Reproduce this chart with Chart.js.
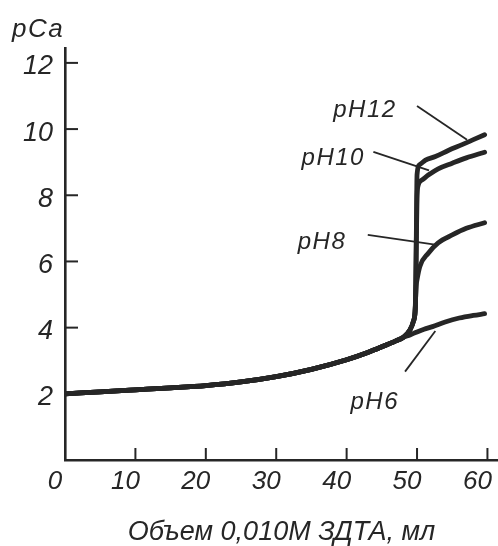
<!DOCTYPE html>
<html><head><meta charset="utf-8">
<script src="https://cdn.jsdelivr.net/npm/chart.js@4.4.0/dist/chart.umd.min.js"></script>
<style>html,body{margin:0;padding:0;background:#fff;} #wrap{width:498px;height:546px;}</style>
</head><body><div id="wrap"><canvas id="c" width="498" height="546"></canvas></div>
<script>
// ---- data ----
const xTickValues = [0, 10, 20, 30, 40, 50, 60];
const yTickValues = [2, 4, 6, 8, 10, 12];
const xTitle = 'Объем 0,010М ЗДТА, мл';
const yTitle = 'pCa';

const commonVolume = [0, 5, 10, 15, 20, 25, 30, 35, 40, 43, 45, 47, 48];
const commonPCa    = [2.0, 2.06, 2.12, 2.18, 2.25, 2.36, 2.52, 2.74, 3.03, 3.25, 3.42, 3.6, 3.7];

const jumpVolume = [49, 49.5, 49.7, 49.8];
const jumpPCa    = [3.93, 4.2, 4.42, 4.9];

const pH12Volume = [49.9, 50.0, 50.4, 51.2, 52.6, 54.5, 56.4, 58, 59.6];
const pH12PCa    = [6.8, 8.62, 8.93, 9.06, 9.17, 9.36, 9.53, 9.68, 9.83];

const pH10Volume = [49.9, 50.0, 50.1, 50.7, 51.6, 53, 55, 57, 59.6];
const pH10PCa    = [6.6, 7.9, 8.25, 8.46, 8.61, 8.8, 8.97, 9.13, 9.3];

const pH8Volume = [49.9, 50.0, 50.4, 51.6, 53, 55, 57, 59.6];
const pH8PCa    = [5.3, 5.45, 5.85, 6.25, 6.56, 6.8, 7.0, 7.17];

const pH6Volume = [49, 50, 51, 52.2, 54, 56, 58, 59.6];
const pH6PCa    = [3.78, 3.87, 3.95, 4.03, 4.17, 4.29, 4.37, 4.42];

const curveLabels = ['pH12', 'pH10', 'pH8', 'pH6'];
// label anchor and leader line in data units (ml, pCa)
const labelAt    = [[42.6, 10.58], [38.1, 9.13], [36.5, 6.59], [44.0, 1.75]];
const leaderFrom = [[50.0, 10.7], [43.8, 9.31], [43.0, 6.8], [48.3, 2.67]];
const leaderTo   = [[57.1, 9.68], [51.7, 8.75], [52.8, 6.5], [52.6, 3.9]];

// ---- build ----
const zip = (xs, ys) => xs.map((x, i) => ({x, y: ys[i]}));
const ink = '#262626';
const FONT = "'Liberation Sans', 'DejaVu Sans', sans-serif";

function series(label, xs, ys, withJump) {
  let px = commonVolume.slice(), py = commonPCa.slice();
  if (withJump) { px = px.concat(jumpVolume); py = py.concat(jumpPCa); }
  px = px.concat(xs); py = py.concat(ys);
  return {
    label, data: zip(px, py), borderColor: ink, borderWidth: 4.8,
    pointRadius: 0, fill: false, cubicInterpolationMode: 'monotone',
    borderCapStyle: 'round', borderJoinStyle: 'round'
  };
}

const deco = {
  id: 'deco',
  beforeInit(chart) { chart.ctx.letterSpacing = '1.5px'; },
  afterDraw(chart) {
    const {ctx, chartArea, scales: {x, y}} = chart;
    ctx.save();
    ctx.strokeStyle = ink; ctx.lineWidth = 2; ctx.lineCap = 'butt';
    yTickValues.forEach(v => {
      const py = y.getPixelForValue(v);
      ctx.beginPath(); ctx.moveTo(chartArea.left, py); ctx.lineTo(chartArea.left + 13, py); ctx.stroke();
    });
    xTickValues.forEach(v => {
      if (v === 0) return;
      const px = x.getPixelForValue(v);
      ctx.beginPath(); ctx.moveTo(px, chartArea.bottom); ctx.lineTo(px, chartArea.bottom - 12); ctx.stroke();
    });
    // leader lines
    ctx.lineWidth = 1.8;
    curveLabels.forEach((t, i) => {
      ctx.beginPath();
      ctx.moveTo(x.getPixelForValue(leaderFrom[i][0]), y.getPixelForValue(leaderFrom[i][1]));
      ctx.lineTo(x.getPixelForValue(leaderTo[i][0]), y.getPixelForValue(leaderTo[i][1]));
      ctx.stroke();
    });
    ctx.fillStyle = ink;
    ctx.letterSpacing = '1.5px';
    ctx.textAlign = 'center'; ctx.textBaseline = 'middle';
    ctx.font = "italic 24px " + FONT;
    curveLabels.forEach((t, i) => {
      ctx.fillText(t, x.getPixelForValue(labelAt[i][0]), y.getPixelForValue(labelAt[i][1]));
    });
    // y title
    ctx.font = "italic 26px " + FONT;
    ctx.textAlign = 'left';
    ctx.fillText(yTitle, chartArea.left - 53, chartArea.top - 18);
    ctx.restore();
  }
};

new Chart(document.getElementById('c'), {
  type: 'line',
  data: {
    datasets: [
      series('pH6', pH6Volume, pH6PCa, false),
      series('pH8', pH8Volume, pH8PCa, true),
      series('pH10', pH10Volume, pH10PCa, true),
      series('pH12', pH12Volume, pH12PCa, true)
    ]
  },
  options: {
    responsive: false, animation: false, devicePixelRatio: 1,
    layout: {padding: {top: 48, right: 0, left: 0, bottom: 0}},
    plugins: {legend: {display: false}, tooltip: {enabled: false}, title: {display: false}},
    scales: {
      x: {
        type: 'linear', min: 0, max: 61.5,
        afterBuildTicks(s) { s.ticks = xTickValues.map(v => ({value: v})); },
        afterFit(s) { s.height = 86; s.paddingLeft = 0; s.paddingRight = 0; },
        grid: {display: false, drawTicks: false},
        border: {display: true, color: ink, width: 2.6},
        ticks: {color: ink, padding: 6, labelOffset: -10, maxRotation: 0, autoSkip: false,
          font: {family: FONT, size: 26, style: 'italic'}},
        title: {display: true, text: xTitle, color: ink, padding: {top: 0, bottom: 0},
          font: {family: FONT, size: 27, style: 'italic', lineHeight: 1.0}}
      },
      y: {
        type: 'linear', min: 0, max: 12.45,
        afterBuildTicks(s) { s.ticks = yTickValues.map(v => ({value: v})); },
        afterFit(s) { s.width = 65; s.paddingTop = 0; s.paddingBottom = 0; },
        grid: {display: false, drawTicks: false},
        border: {display: true, color: ink, width: 2.6},
        ticks: {color: ink, padding: 12, labelOffset: 4, autoSkip: false,
          font: {family: FONT, size: 27, style: 'italic'}}
      }
    }
  },
  plugins: [deco]
});
</script></body></html>
